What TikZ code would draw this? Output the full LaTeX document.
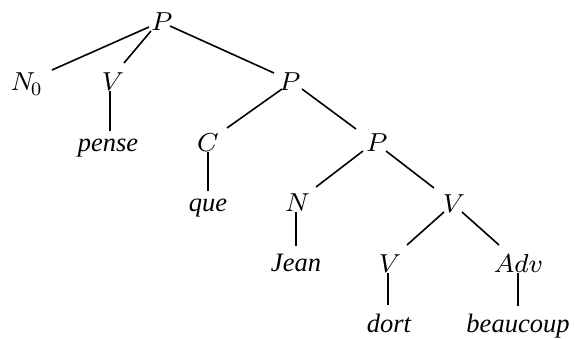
\documentclass[tikz,border=0pt]{standalone}
\usepackage{fontspec}
\newfontfamily\wordfont{Liberation Serif}
\font\catfont=cmmi8 at 26pt
\font\catsubfont=cmr8 at 19pt
\begin{document}
\begin{tikzpicture}[x=1pt,y=-1pt,
  cat/.style={inner sep=0pt, anchor=base, font=\catfont},
  word/.style={inner sep=0pt, anchor=base, font=\fontsize{26.5}{32}\selectfont\wordfont\itshape},
  edge/.style={line width=1.6pt}]
\useasboundingbox (0,0) rectangle (574,338);
\node[cat] (pT) at (160,30) {P};
\node[cat] (n0) at (26,90) {N\kern-1.5pt\raisebox{-5pt}{\catsubfont 0}};
\node[cat] (v1) at (110,90) {V};
\node[word] (pense) at (108,151) {pense};
\node[cat] (p2) at (288,90) {P};
\node[cat] (c) at (207,151) {C};
\node[word] (que) at (208,211) {que};
\node[cat] (p3) at (375,151) {P};
\node[cat] (n) at (296,211) {N};
\node[word] (jean) at (296,271) {Jean};
\node[cat] (v2) at (451,212) {V};
\node[cat] (v3) at (387,272) {V};
\node[cat] (adv) at (518,272) {Adv};
\node[word] (dort) at (389,332) {dort};
\node[word] (beaucoup) at (518,332) {beaucoup};
\draw[edge] ([shift={(-11,-3)}]pT.base) -- ([shift={(26,-20)}]n0.base);
\draw[edge] ([shift={(-9,1)}]pT.base) -- ([shift={(14,-27)}]v1.base);
\draw[edge] ([shift={(10,-4)}]pT.base) -- ([shift={(-14,-17)}]p2.base);
\draw[edge] ([shift={(0,1)}]v1.base) -- ([shift={(2,-20)}]pense.base);
\draw[edge] ([shift={(-6,-1)}]p2.base) -- ([shift={(20,-23)}]c.base);
\draw[edge] ([shift={(14,-1)}]p2.base) -- ([shift={(-19,-22)}]p3.base);
\draw[edge] ([shift={(1,1)}]c.base) -- ([shift={(0,-20)}]que.base);
\draw[edge] ([shift={(-12,0)}]p3.base) -- ([shift={(20,-24)}]n.base);
\draw[edge] ([shift={(11,0)}]p3.base) -- ([shift={(-17,-24)}]v2.base);
\draw[edge] ([shift={(0,1)}]n.base) -- ([shift={(0,-25)}]jean.base);
\draw[edge] ([shift={(-7,0)}]v2.base) -- ([shift={(20,-27)}]v3.base);
\draw[edge] ([shift={(11,0)}]v2.base) -- ([shift={(-19,-27)}]adv.base);
\draw[edge] ([shift={(1,1)}]v3.base) -- ([shift={(-1,-27)}]dort.base);
\draw[edge] ([shift={(0,1)}]adv.base) -- ([shift={(0,-26)}]beaucoup.base);
\end{tikzpicture}
\end{document}
